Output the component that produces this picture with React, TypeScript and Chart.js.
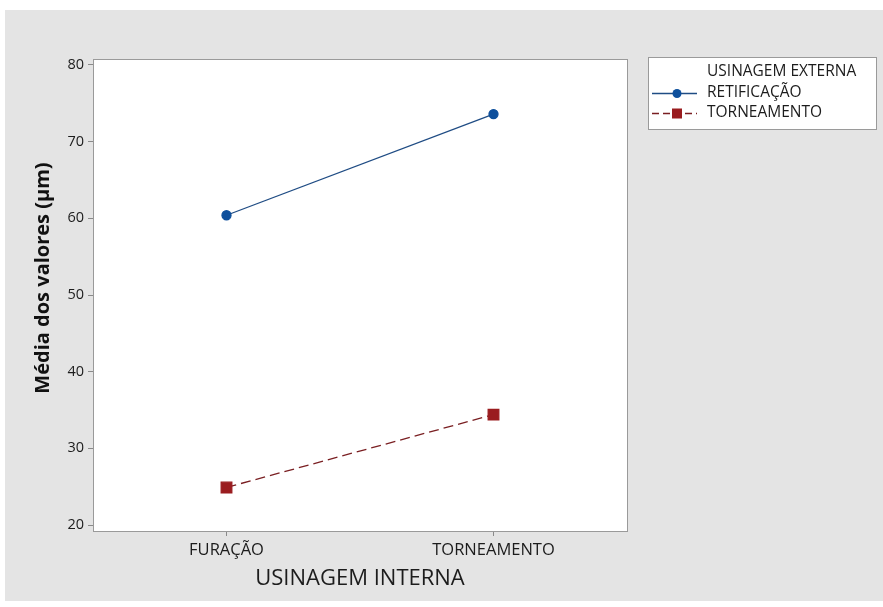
import React, { useEffect, useRef } from "react";
import { Chart, registerables } from "chart.js";

Chart.register(...registerables);

const categories = ["FURAÇÃO", "TORNEAMENTO"];
const seriesNames = ["RETIFICAÇÃO", "TORNEAMENTO"];
const retificacao = [60.4, 73.6];
const torneamento = [24.9, 34.4];
const yTicks = [20, 30, 40, 50, 60, 70, 80];
const legendTitle = "USINAGEM EXTERNA";
const xTitle = "USINAGEM INTERNA";
const yTitle = "Média dos valores (µm)";

const FONT = "'Open Sans', 'Noto Sans', sans-serif";
const BLUE_LINE = "#1f4c84";
const BLUE_PT = "#0d4f9c";
const RED_LINE = "#7a1f22";
const RED_PT = "#9a1c1f";
const TEXT = "#1c1c1c";

const bgPlugin = {
  id: "bgPlugin",
  beforeDraw(chart: any) {
    const ctx = chart.ctx;
    ctx.save();
    ctx.fillStyle = "#ffffff";
    ctx.fillRect(0, 0, chart.width, chart.height);
    ctx.fillStyle = "#e4e4e4";
    ctx.fillRect(5, 10, chart.width - 5, chart.height - 16);
    const a = chart.chartArea;
    ctx.fillStyle = "#ffffff";
    ctx.fillRect(a.left, a.top, a.right - a.left, a.bottom - a.top);
    ctx.restore();
  },
  afterDraw(chart: any) {
    const ctx = chart.ctx;
    const a = chart.chartArea;
    ctx.save();
    ctx.strokeStyle = "#9a9a9a";
    ctx.lineWidth = 1;
    ctx.strokeRect(Math.round(a.left) + 0.5, Math.round(a.top) + 0.5, Math.round(a.right - a.left), Math.round(a.bottom - a.top));
    // y title
    ctx.save();
    ctx.translate(43, 278);
    ctx.rotate(-Math.PI / 2);
    ctx.font = `bold 20px ${FONT}`;
    ctx.fillStyle = "#111111";
    ctx.textAlign = "center";
    ctx.textBaseline = "middle";
    ctx.fillText(yTitle, 0, 0);
    ctx.restore();
    // legend
    const lx = 648, ly = 57, lw = 228, lh = 72;
    ctx.fillStyle = "#ffffff";
    ctx.fillRect(lx, ly, lw, lh);
    ctx.strokeStyle = "#9a9a9a";
    ctx.strokeRect(lx + 0.5, ly + 0.5, lw, lh);
    ctx.fillStyle = TEXT;
    ctx.font = `15.5px ${FONT}`;
    ctx.textBaseline = "middle";
    ctx.textAlign = "left";
    ctx.fillText(legendTitle, 707, 72);
    const ds = chart.data.datasets;
    const rows = [93, 113];
    ds.forEach((d: any, i: number) => {
      const y = rows[i];
      ctx.save();
      ctx.strokeStyle = d.borderColor;
      ctx.lineWidth = 1.5;
      ctx.setLineDash(d.borderDash ? [7, 4] : []);
      ctx.beginPath();
      ctx.moveTo(652, y + 0.5);
      ctx.lineTo(697, y + 0.5);
      ctx.stroke();
      ctx.restore();
      ctx.fillStyle = d.pointBackgroundColor;
      if (d.pointStyle === "rect") {
        ctx.fillRect(677 - 5, y - 4.5, 10, 10);
      } else {
        ctx.beginPath();
        ctx.arc(677, y + 0.5, 4.5, 0, Math.PI * 2);
        ctx.fill();
      }
      ctx.fillStyle = TEXT;
      ctx.fillText(d.label, 707, y);
    });
    ctx.restore();
  },
};

export default function App() {
  const ref = useRef<HTMLCanvasElement | null>(null);
  useEffect(() => {
    document.body.style.margin = "0";
    const canvas = ref.current!;
    const chart = new Chart(canvas, {
      type: "line",
      data: {
        labels: categories,
        datasets: [
          {
            label: seriesNames[0],
            data: retificacao,
            borderColor: BLUE_LINE,
            backgroundColor: BLUE_PT,
            pointBackgroundColor: BLUE_PT,
            pointBorderColor: BLUE_PT,
            pointStyle: "circle",
            pointRadius: 4.5,
            borderWidth: 1.3,
          },
          {
            label: seriesNames[1],
            data: torneamento,
            borderColor: RED_LINE,
            backgroundColor: RED_PT,
            pointBackgroundColor: RED_PT,
            pointBorderColor: RED_PT,
            pointStyle: "rect",
            pointRadius: 7.5,
            borderWidth: 1.3,
            borderDash: [10, 5],
          },
        ],
      },
      options: {
        responsive: false,
        animation: false,
        layout: { padding: { left: 0, top: 59, right: 256, bottom: 0 } },
        plugins: { legend: { display: false }, tooltip: { enabled: false } },
        scales: {
          x: {
            type: "category",
            offset: true,
            afterFit(scale: any) {
              scale.height = 76;
            },
            grid: {
              offset: false,
              drawOnChartArea: false,
              drawTicks: true,
              tickLength: 5,
              color: "#8a8a8a",
            },
            border: { display: false },
            ticks: {
              color: TEXT,
              font: { family: FONT, size: 16.5 },
              padding: 4,
              maxRotation: 0,
            },
            title: {
              display: true,
              text: xTitle,
              color: TEXT,
              font: { family: FONT, size: 22 },
              padding: { top: 0, bottom: 15 },
            },
          },
          y: {
            type: "linear",
            min: 19.22,
            max: 80.78,
            afterFit(scale: any) {
              scale.width = 93;
            },
            afterBuildTicks(scale: any) {
              scale.ticks = yTicks.map((v) => ({ value: v }));
            },
            grid: {
              drawOnChartArea: false,
              drawTicks: true,
              tickLength: 5,
              color: "#8a8a8a",
            },
            border: { display: false },
            ticks: {
              color: TEXT,
              font: { family: FONT, size: 14.5 },
              padding: 4,
            },
            title: { display: false },
          },
        },
      },
      plugins: [bgPlugin],
    });
    return () => chart.destroy();
  }, []);
  return (
    <div style={{ width: 883, height: 607, position: "relative" }}>
      <canvas ref={ref} width={883} height={607} style={{ display: "block" }} />
    </div>
  );
}
